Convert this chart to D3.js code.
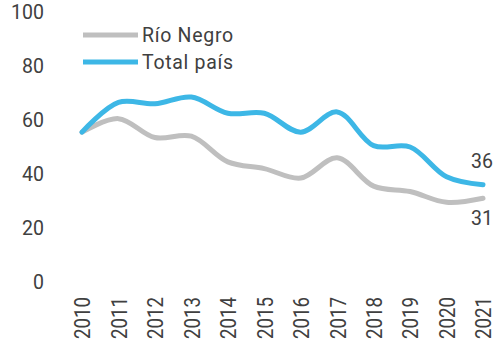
<!DOCTYPE html>
<html>
<head>
<meta charset="utf-8">
<script src="https://cdn.jsdelivr.net/npm/d3@7"></script>
<style>
  html, body { margin: 0; padding: 0; background: #fff; }
  svg { display: block; }
  text { font-family: Roboto, "Liberation Sans", sans-serif; fill: #404040; }
</style>
</head>
<body>
<svg id="chart" width="494" height="347"></svg>
<script>
// Years on the x axis
const years = ["2010","2011","2012","2013","2014","2015","2016","2017","2018","2019","2020","2021"];
// Series values (%)
const rioNegro = [55.5, 60.5, 53.5, 54, 44.5, 42, 38.5, 46, 35.5, 33.5, 29.5, 31];
const totalPais = [55.5, 66.5, 66, 68.5, 62.5, 62.5, 55.5, 63, 50.5, 50, 39, 36];
// Y axis ticks
const yTicks = [0, 20, 40, 60, 80, 100];

const seriesNames = ["Río Negro", "Total país"];
const seriesColors = ["#bfbfbf", "#3db7e6"];

const svg = d3.select("#chart");

const x = d3.scalePoint().domain(years).range([82, 483]);
const y = d3.scaleLinear().domain([0, 100]).range([282, 12]);

// Y axis labels (no axis line)
const yAxis = d3.axisLeft(y).tickValues(yTicks).tickSize(0).tickPadding(0);
const gy = svg.append("g").attr("transform", "translate(44,0)").call(yAxis);
gy.select(".domain").remove();
gy.selectAll("text")
  .attr("font-family", "Roboto, 'Liberation Sans', sans-serif")
  .attr("font-size", 19.5)
  .attr("fill", "#404040");

// X axis: rotated year labels reading upward
const xAxis = d3.axisBottom(x).tickSize(0).tickPadding(0);
const gx = svg.append("g").attr("transform", "translate(0,297)").call(xAxis);
gx.select(".domain").remove();
gx.selectAll("text")
  .attr("font-family", "Roboto, 'Liberation Sans', sans-serif")
  .attr("font-size", 22.5)
  .attr("fill", "#404040")
  .attr("text-anchor", "end")
  .attr("x", 0)
  .attr("y", 0)
  .attr("dy", "0.35em")
  .attr("transform", "rotate(-90) scale(0.83,1)");

// Lines
const line = d3.line()
  .x((d, i) => x(years[i]))
  .y(d => y(d))
  .curve(d3.curveCatmullRom.alpha(0.5));

[rioNegro, totalPais].forEach((vals, k) => {
  svg.append("path")
    .datum(vals)
    .attr("fill", "none")
    .attr("stroke", seriesColors[k])
    .attr("stroke-width", 5)
    .attr("stroke-linecap", "round")
    .attr("stroke-linejoin", "round")
    .attr("d", line);
});

// End value labels
const last = years.length - 1;
svg.append("text")
  .attr("x", x(years[last]) - 1)
  .attr("y", y(totalPais[last]) - 24)
  .attr("dy", "0.36em")
  .attr("text-anchor", "middle")
  .attr("font-size", 19.5)
  .text(Math.round(totalPais[last]));
svg.append("text")
  .attr("x", x(years[last]) - 1)
  .attr("y", y(rioNegro[last]) + 20)
  .attr("dy", "0.36em")
  .attr("text-anchor", "middle")
  .attr("font-size", 19.5)
  .text(Math.round(rioNegro[last]));

// Legend
const legend = svg.append("g");
seriesNames.forEach((name, k) => {
  const ly = 35 + k * 27;
  legend.append("line")
    .attr("x1", 83).attr("x2", 138)
    .attr("y1", ly).attr("y2", ly)
    .attr("stroke", seriesColors[k])
    .attr("stroke-width", 5);
  legend.append("text")
    .attr("x", 142)
    .attr("y", ly)
    .attr("dy", "0.36em")
    .attr("font-size", 19.5)
    .attr("letter-spacing", 0.7)
    .text(name);
});
</script>
</body>
</html>
